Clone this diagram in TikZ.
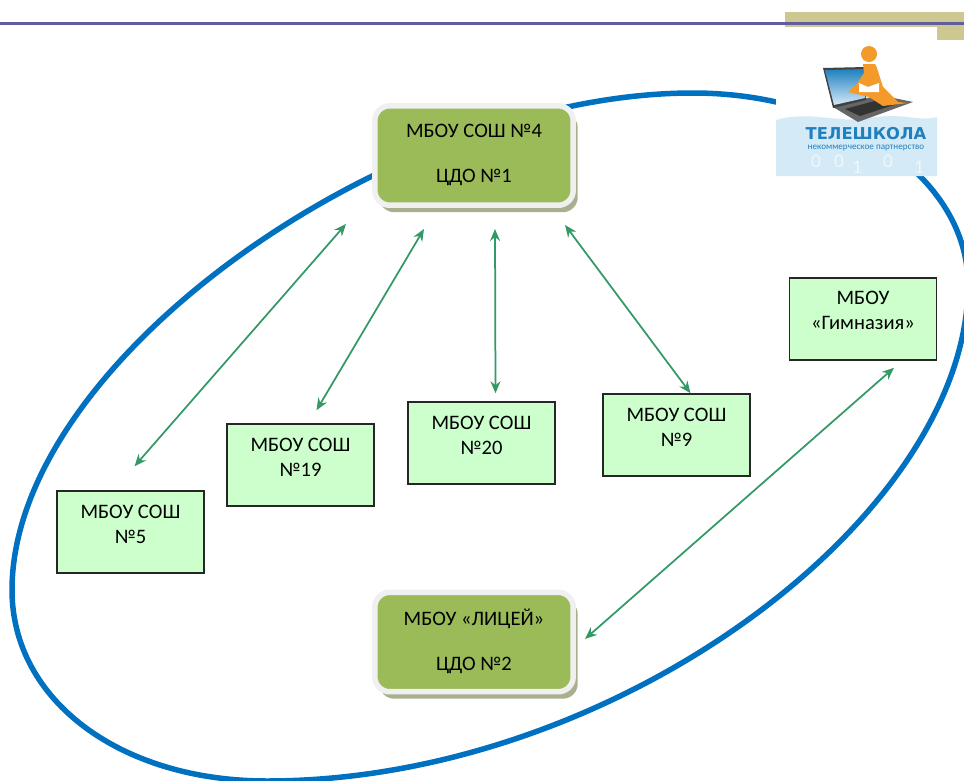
\documentclass[tikz,border=0pt]{standalone}
\usepackage{fontspec}
\setmainfont{Carlito}
\newfontfamily\logofont{DejaVu Sans}
\usetikzlibrary{arrows.meta,calc,positioning,shadows}
\definecolor{ringblue}{HTML}{0070C0}
\definecolor{arrowgreen}{HTML}{339966}
\definecolor{boxgreen}{HTML}{CCFFCC}
\definecolor{olivegreen}{HTML}{9BBB59}
\definecolor{shadowgrey}{HTML}{A9B08F}
\definecolor{topline}{HTML}{5F5F9F}
\definecolor{toptan}{HTML}{CCC890}
\definecolor{logoblue}{HTML}{D5EAF7}
\definecolor{logotext}{HTML}{1F80BE}
\definecolor{logoorange}{HTML}{F39A2B}
\tikzstyle{rectschool} = [rectangle, minimum width=2.94cm, minimum height=1.64cm, inner sep=0pt, align=center, text depth=0.3cm, draw=black!85, line width=0.03cm, fill=boxgreen, font=\fontsize{11.7}{14.2}\selectfont]
\tikzstyle{rectcentre} = [rectangle, rounded corners=0.3cm, minimum width=3.97cm, minimum height=1.99cm, inner sep=0pt, align=center, text depth=0.08cm, draw=white!94!black, line width=0.11cm, fill=olivegreen, font=\fontsize{11.7}{25.4}\selectfont, drop shadow={shadow xshift=0.09cm, shadow yshift=-0.14cm, fill=shadowgrey, opacity=1}]
\tikzstyle{arrow} = [line width=0.035cm,arrowgreen,{Stealth[length=0.24cm,width=0.2cm]}-{Stealth[length=0.24cm,width=0.2cm]}]
\begin{document}
\begin{tikzpicture}[x=0.02cm, y=-0.02cm]
	\useasboundingbox (0,0) rectangle (964,781);
	\clip (0,0) rectangle (964,781);
	% Polosa
	\fill[toptan] (785,12) rectangle (964,26.5);
	\fill[toptan] (937,26.5) rectangle (964,40);
	\draw[topline, line width=0.06cm] (0,23.5) -- (964,23.5);
	% Oval
	\draw[ringblue, line width=0.11cm] (12,590) .. controls (12,700) and (120,781) .. (267,781) .. controls (617,781) and (968,515) .. (968,285) .. controls (968,175) and (840,93) .. (693,93) .. controls (393,93) and (12,360) .. cycle;
	% Logotip
	\fill[white] (776,40) rectangle (937,176);
	\fill[logoblue] (776,176) -- (776,120) .. controls (810,110) and (840,124) .. (870,118) .. controls (900,112) and (920,122) .. (937,117) -- (937,176) -- cycle;
	\foreach \i/\px/\py/\dg in {1/816/161/0,2/839/161/0,3/857/167/1,4/888/161/0,5/919/167/1}
		\node (digit\i) at (\px,\py) {\fontsize{11}{11}\selectfont\color{white!60!logoblue}\dg};
	\fill[black!60] (833,107) -- (879,95) -- (913,102) -- (858,122) -- cycle;
	\fill[black!80] (845,109) -- (882,99) -- (900,103) -- (860,116) -- cycle;
	\fill[black!75] (823,68) -- (866,67) -- (866,100) -- (833,108) -- cycle;
	\shade[top color=logotext, bottom color=logoblue] (825,70) -- (865,69) -- (865,98) -- (834,105) -- cycle;
	\fill[logoorange] (869,54) circle[radius=8];
	\fill[logoorange] (863,64) -- (875,64) -- (877,68) -- (883,87) -- (898,102) -- (908,103) -- (883,106) -- (869,97) -- (848,92) -- (856,85) -- (864,73) -- cycle;
	\fill[white] (859,83) -- (868,87) -- (879,83) -- (879,92) -- (859,92) -- cycle;
	\node (logoname) at (866,134) {\fontsize{9.3}{9.3}\selectfont\logofont\bfseries\color{logotext}ТЕЛЕШКОЛА};
	\node (logosub) at (866,148) {\fontsize{5.2}{5}\selectfont\color{logotext}некоммерческое партнерство};
	% Kvadraty
	\node (cdo1) [rectcentre] at (474,155.5) {МБОУ СОШ №4\\ЦДО №1};
	\node (cdo2) [rectcentre] at (474,642) {МБОУ «ЛИЦЕЙ»\\ЦДО №2};
	\node (sch5) [rectschool] at (130.5,532) {МБОУ СОШ\\№5};
	\node (sch19) [rectschool] at (300.5,465) {МБОУ СОШ\\№19};
	\node (sch20) [rectschool] at (481.5,443) {МБОУ СОШ\\№20};
	\node (sch9) [rectschool] at (676.5,435) {МБОУ СОШ\\№9};
	\node (gymn) [rectschool, text depth=0.36cm] at (863,319) {МБОУ\\«Гимназия»};
	% Strelki
	\draw[arrow] ([shift={(-128,16)}]cdo1.south) -- ([shift={(4,-24)}]sch5.north);
	\draw[arrow] ([shift={(-50,21)}]cdo1.south) -- ([shift={(16,-13)}]sch19.north);
	\draw[arrow] ([shift={(21,21)}]cdo1.south) -- ([shift={(14,-8)}]sch20.north);
	\draw[arrow] ([shift={(91,17)}]cdo1.south) -- ([shift={(14,0)}]sch9.north);
	\draw[arrow] ([shift={(31,7)}]gymn.south) -- ([shift={(9,-3)}]cdo2.east);
\end{tikzpicture}
\end{document}
